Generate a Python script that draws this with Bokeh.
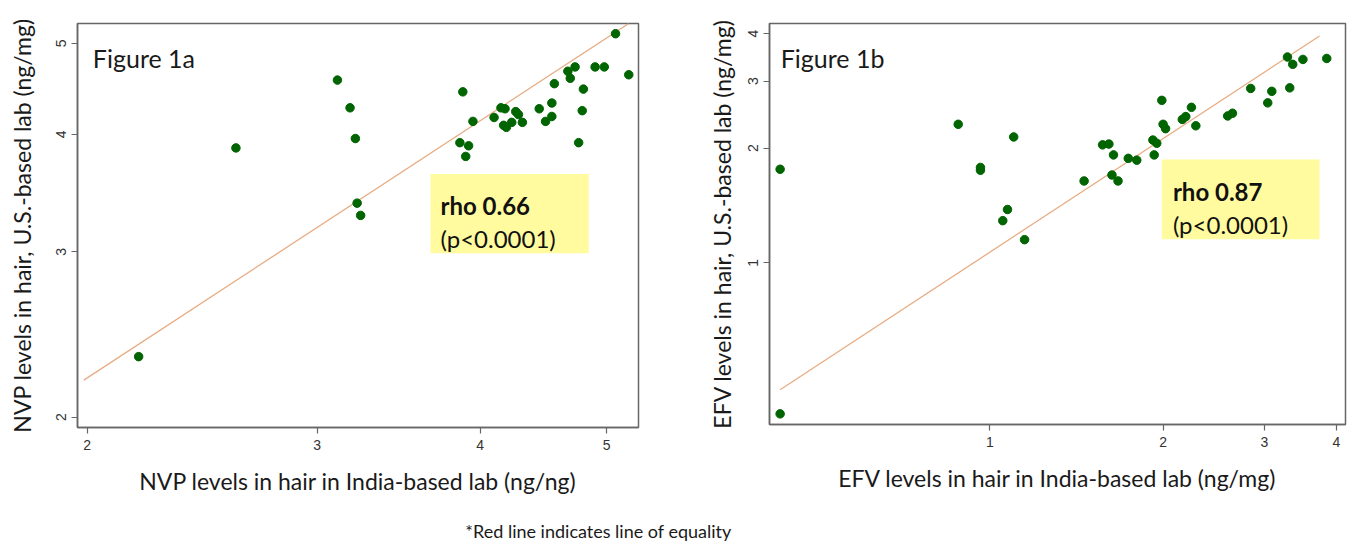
from bokeh.plotting import figure
from bokeh.models import FixedTicker, PrintfTickFormatter, Label, BoxAnnotation, Range1d
from bokeh.layouts import column, row
from bokeh.embed import file_html
from bokeh.resources import INLINE

# ---------------- data ----------------
# Figure 1a: NVP (India-based lab vs U.S.-based lab)
nvp_india = [2.19, 2.60, 3.11, 3.18, 3.21, 3.22, 3.24, 3.88, 3.86, 3.92, 3.90, 3.95,
             4.10, 4.15, 4.18, 4.17, 4.19, 4.23, 4.26, 4.28, 4.31, 4.44, 4.49, 4.54,
             4.54, 4.56, 4.67, 4.69, 4.73, 4.80, 4.79, 4.76, 4.90, 4.98, 5.08, 5.20]
nvp_us = [2.32, 3.87, 4.57, 4.27, 3.96, 3.38, 3.28, 4.44, 3.92, 3.89, 3.79, 4.13,
          4.17, 4.27, 4.26, 4.09, 4.07, 4.12, 4.23, 4.20, 4.12, 4.26, 4.13, 4.18,
          4.32, 4.53, 4.67, 4.59, 4.72, 4.47, 4.24, 3.92, 4.72, 4.72, 5.12, 4.63]
nvp_line_x = [1.988, 5.20]
nvp_line_y = [2.19, 5.25]
nvp_xticks = [2, 3, 4, 5]
nvp_yticks = [2, 3, 4, 5]

# Figure 1b: EFV (India-based lab vs U.S.-based lab)
efv_india = [0.432, 0.432, 0.881, 0.963, 0.963, 1.10, 1.053, 1.073, 1.149, 1.458,
             1.57, 1.61, 1.64, 1.63, 1.67, 1.74, 1.80, 1.92, 1.95, 1.93, 1.99, 2.00,
             2.02, 2.16, 2.19, 2.24, 2.28, 2.59, 2.64, 2.84, 3.04, 3.09, 3.32, 3.29,
             3.36, 3.50, 3.85]
efv_us = [1.76, 0.401, 2.31, 1.78, 1.75, 2.14, 1.29, 1.38, 1.15, 1.64,
          2.04, 2.05, 1.92, 1.70, 1.64, 1.88, 1.86, 2.10, 2.06, 1.92, 2.67, 2.31,
          2.25, 2.38, 2.42, 2.56, 2.29, 2.43, 2.47, 2.87, 2.63, 2.82, 2.88, 3.47,
          3.32, 3.42, 3.44]
efv_line_x = [0.432, 3.74]
efv_line_y = [0.464, 3.94]
efv_xticks = [1, 2, 3, 4]
efv_yticks = [1, 2, 3, 4]

TITLE_FONT = "Lato"
TICK_FONT = "Liberation Sans"
DOT = "#006400"
LINE = "#E8AC84"
BOX = "#FFFB9E"


def panel(xs, ys, lx, ly, xr, yr, xticks, yticks, xlabel, ylabel,
          fig_label, fig_pos, rho, rho_pos, p_pos, box,
          fw, fh, bl, br, bt, bb, ylab_standoff, xlab_standoff):
    p = figure(x_axis_type="log", y_axis_type="log",
               x_range=Range1d(*xr), y_range=Range1d(*yr),
               frame_width=fw, frame_height=fh, title=None,
               output_backend="svg", toolbar_location=None)
    p.min_border_left = bl
    p.min_border_right = br
    p.min_border_top = bt
    p.min_border_bottom = bb
    p.background_fill_color = "white"
    p.border_fill_color = "white"
    p.outline_line_color = "#666666"
    p.outline_line_width = 1.5
    p.grid.visible = False

    for ax, ticks in ((p.xaxis, xticks), (p.yaxis, yticks)):
        ax.ticker = FixedTicker(ticks=ticks, minor_ticks=[])
        ax.formatter = PrintfTickFormatter(format="%g")
        ax.axis_line_color = "#666666"
        ax.axis_line_width = 1.5
        ax.major_tick_line_color = "#666666"
        ax.major_tick_line_width = 1.2
        ax.major_tick_in = 0
        ax.major_tick_out = 6
        ax.minor_tick_line_color = None
        ax.major_label_text_font = TICK_FONT
        ax.major_label_text_font_size = "14px"
        ax.major_label_text_color = "#333333"
        ax.axis_label_text_font = TITLE_FONT
        ax.axis_label_text_font_size = "23px"
        ax.axis_label_text_font_style = "normal"
        ax.axis_label_text_color = "#1a1a1a"
    p.yaxis.major_label_orientation = "vertical"
    p.yaxis.major_label_standoff = 5
    p.xaxis.major_label_standoff = 6
    p.xaxis.axis_label = xlabel
    p.yaxis.axis_label = ylabel
    p.yaxis.axis_label_standoff = ylab_standoff
    p.xaxis.axis_label_standoff = xlab_standoff

    p.add_layout(BoxAnnotation(left=box[0], right=box[1], bottom=box[2], top=box[3],
                               fill_color=BOX, fill_alpha=1.0, line_color=None,
                               level="underlay"))

    p.line(lx, ly, line_color=LINE, line_width=1.3)
    p.scatter(xs, ys, size=8.5, fill_color=DOT, line_color=DOT)

    p.add_layout(Label(x=fig_pos[0], y=fig_pos[1], text=fig_label,
                       text_font=TITLE_FONT, text_font_size="25px",
                       text_color="#1a1a1a", text_baseline="alphabetic"))
    p.add_layout(Label(x=rho_pos[0], y=rho_pos[1], text=rho,
                       text_font=TITLE_FONT, text_font_size="24px",
                       text_font_style="bold", text_color="#111111",
                       text_baseline="alphabetic"))
    p.add_layout(Label(x=p_pos[0], y=p_pos[1], text="(p<0.0001)",
                       text_font=TITLE_FONT, text_font_size="24px",
                       text_color="#111111", text_baseline="alphabetic"))
    return p


pA = panel(nvp_india, nvp_us, nvp_line_x, nvp_line_y,
           (1.966, 5.29), (1.95, 5.25), nvp_xticks, nvp_yticks,
           "NVP levels in hair in India-based lab (ng/ng)",
           "NVP levels in hair, U.S.-based lab (ng/mg)",
           "Figure 1a", (2.02, 4.82), "rho 0.66", (3.73, 3.36), (3.73, 3.10),
           (3.665, 4.845, 2.99, 3.63),
           561, 404, 77, 62, 22, 84, 18, 14)

pB = panel(efv_india, efv_us, efv_line_x, efv_line_y,
           (0.414, 4.15), (0.376, 4.25), efv_xticks, efv_yticks,
           "EFV levels in hair in India-based lab (ng/mg)",
           "EFV levels in hair, U.S.-based lab (ng/mg)",
           "Figure 1b", (0.433, 3.46), "rho 0.87", (2.08, 1.543), (2.08, 1.261),
           (1.99, 3.74, 1.152, 1.868),
           576, 401, 69, 5, 23, 86, 10, 14)

foot = figure(width=1350, height=34, x_range=Range1d(0, 1350), y_range=Range1d(0, 34),
              title=None, output_backend="svg", toolbar_location=None)
foot.min_border = 0
foot.axis.visible = False
foot.grid.visible = False
foot.outline_line_color = None
foot.add_layout(Label(x=598, y=14, text="*Red line indicates line of equality",
                      text_font=TITLE_FONT, text_font_size="18px",
                      text_color="#1a1a1a", text_align="center",
                      text_baseline="middle"))

layout = column(row(pA, pB), foot)
open("out.html", "w").write(file_html(layout, INLINE))
